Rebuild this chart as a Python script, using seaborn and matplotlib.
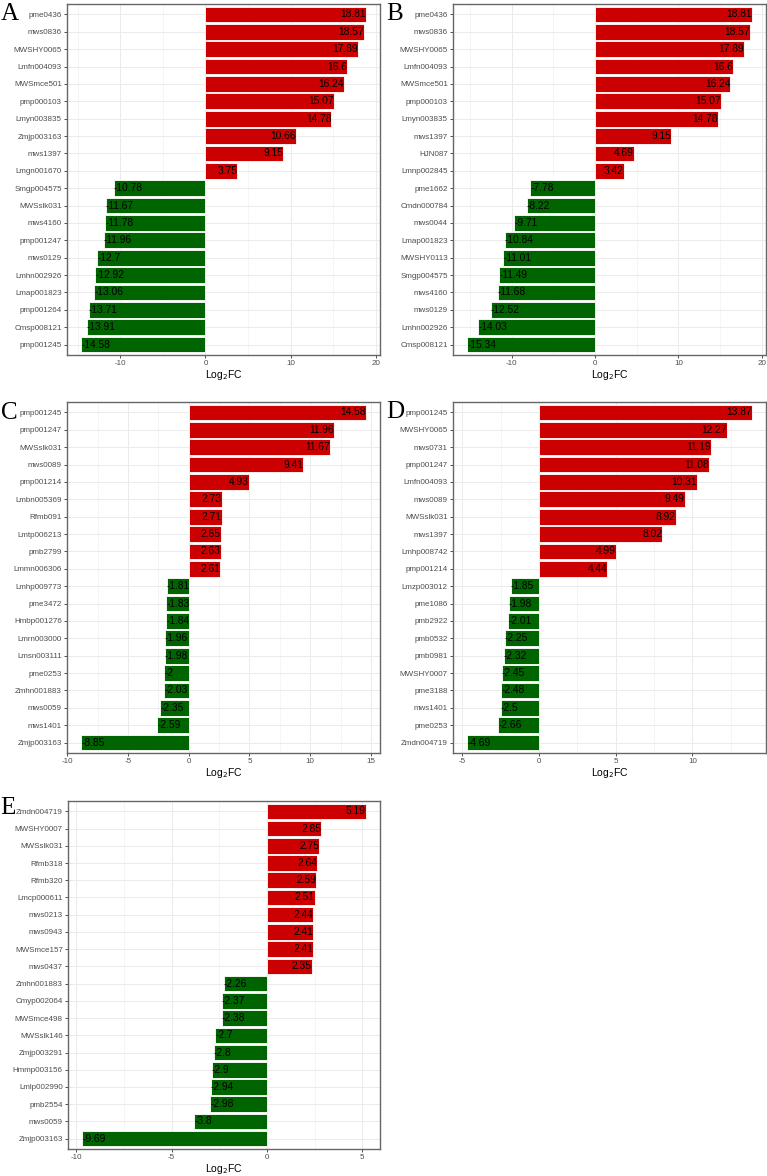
import numpy as np
import pandas as pd
import matplotlib
matplotlib.use("Agg")
import matplotlib.pyplot as plt
from matplotlib.ticker import MultipleLocator
import seaborn as sns

# panel A
a_names = ["pme0436", "mws0836", "MWSHY0065", "Lmfn004093", "MWSmce501", "pmp000103", "Lmyn003835",
           "Zmjp003163", "mws1397", "Lmgn001670", "Smgp004575", "MWSslk031", "mws4160", "pmp001247",
           "mws0129", "Lmhn002926", "Lmap001823", "pmp001264", "Cmsp008121", "pmp001245"]
a_vals = [18.81, 18.57, 17.89, 16.6, 16.24, 15.07, 14.78, 10.66, 9.15, 3.75,
          -10.78, -11.67, -11.78, -11.96, -12.7, -12.92, -13.06, -13.71, -13.91, -14.58]

# panel B
b_names = ["pme0436", "mws0836", "MWSHY0065", "Lmfn004093", "MWSmce501", "pmp000103", "Lmyn003835",
           "mws1397", "HJN087", "Lmnp002845", "pme1662", "Cmdn000784", "mws0044", "Lmap001823",
           "MWSHY0113", "Smgp004575", "mws4160", "mws0129", "Lmhn002926", "Cmsp008121"]
b_vals = [18.81, 18.57, 17.89, 16.6, 16.24, 15.07, 14.78, 9.15, 4.69, 3.42,
          -7.78, -8.22, -9.71, -10.84, -11.01, -11.49, -11.68, -12.52, -14.03, -15.34]

# panel C
c_names = ["pmp001245", "pmp001247", "MWSslk031", "mws0089", "pmp001214", "Lmbn005369", "Rfmb091",
           "Lmtp006213", "pmb2799", "Lmmn006306", "Lmhp009773", "pme3472", "Hmbp001276", "Lmrn003000",
           "Lmsn003111", "pme0253", "Zmhn001883", "mws0059", "mws1401", "Zmjp003163"]
c_vals = [14.58, 11.96, 11.67, 9.41, 4.93, 2.73, 2.71, 2.65, 2.63, 2.61,
          -1.81, -1.83, -1.84, -1.96, -1.98, -2, -2.03, -2.35, -2.59, -8.85]

# panel D
d_names = ["pmp001245", "MWSHY0065", "mws0731", "pmp001247", "Lmfn004093", "mws0089", "MWSslk031",
           "mws1397", "Lmhp008742", "pmp001214", "Lmzp003012", "pme1086", "pmb2922", "pmb0532",
           "pmb0981", "MWSHY0007", "pme3188", "mws1401", "pme0253", "Zmdn004719"]
d_vals = [13.87, 12.27, 11.19, 11.08, 10.31, 9.49, 8.92, 8.02, 4.99, 4.44,
          -1.85, -1.98, -2.01, -2.25, -2.32, -2.45, -2.48, -2.5, -2.66, -4.69]

# panel E
e_names = ["Zmdn004719", "MWSHY0007", "MWSslk031", "Rfmb318", "Rfmb320", "Lmcp000611", "mws0213",
           "mws0943", "MWSmce157", "mws0437", "Zmhn001883", "Cmyp002064", "MWSmce498", "MWSslk146",
           "Zmjp003291", "Hmmp003156", "Lmlp002990", "pmb2554", "mws0059", "Zmjp003163"]
e_vals = [5.19, 2.85, 2.75, 2.64, 2.59, 2.51, 2.44, 2.41, 2.41, 2.35,
          -2.26, -2.37, -2.38, -2.7, -2.8, -2.9, -2.94, -2.98, -3.8, -9.69]

panels = [
    ("A", a_names, a_vals, 10, (67, 380, 4, 355), (1, 3)),
    ("B", b_names, b_vals, 10, (453, 766, 4, 355), (386, 3)),
    ("C", c_names, c_vals, 5, (67, 380, 402, 753), (1, 402)),
    ("D", d_names, d_vals, 5, (453, 766, 402, 753), (386, 401)),
    ("E", e_names, e_vals, 5, (68, 380, 801, 1149), (0, 797)),
]

W, H = 767, 1176
sns.set_theme(style="white")
plt.rcParams["font.family"] = ["Liberation Sans", "DejaVu Sans"]
plt.rcParams["axes.unicode_minus"] = False
fig = plt.figure(figsize=(W / 100, H / 100), dpi=100)

pal = {"up": "#CC0000", "down": "#006400"}

for letter, names, vals, step, (l, r, t, b), (lx, ly) in panels:
    ax = fig.add_axes([l / W, 1 - b / H, (r - l) / W, (b - t) / H])
    df = pd.DataFrame({"gene": names, "fc": vals})
    df["dir"] = np.where(df["fc"] > 0, "up", "down")
    ax.set_axisbelow(True)
    sns.barplot(data=df, x="fc", y="gene", hue="dir", palette=pal, order=names,
                orient="h", width=0.9, dodge=False, legend=False, saturation=1,
                edgecolor="white", linewidth=0.6, ax=ax)
    for i, v in enumerate(vals):
        ax.text(v, i, f"{v:g}", ha="right" if v > 0 else "left", va="center",
                fontsize=7.4, color="black")
    lo, hi = min(min(vals), 0), max(max(vals), 0)
    pad = (hi - lo) * 0.05
    ax.set_xlim(lo - pad, hi + pad)
    ax.set_ylim(len(names) - 0.4, -0.6)
    ax.xaxis.set_major_locator(MultipleLocator(step))
    ax.xaxis.set_minor_locator(MultipleLocator(step / 2))
    ax.grid(True, which="major", color="#EBEBEB", linewidth=0.7)
    ax.grid(True, which="minor", axis="x", color="#F2F2F2", linewidth=0.5)
    for s in ax.spines.values():
        s.set_visible(True)
        s.set_color("#666666")
        s.set_linewidth(1.0)
    ax.tick_params(axis="both", which="major", length=2.5, width=0.6, color="#333333",
                   labelsize=5.8, labelcolor="#4D4D4D", pad=1.2, left=True, bottom=True)
    ax.tick_params(axis="x", which="minor", length=0)
    ax.set_ylabel("")
    ax.set_xlabel("Log$_2$FC", fontsize=7.5, color="black", labelpad=0.5)
    fig.text(lx / W, 1 - ly / H, letter, ha="left", va="top",
             fontsize=18, family="Liberation Serif", color="black")

fig.savefig("out.png", dpi=100)
